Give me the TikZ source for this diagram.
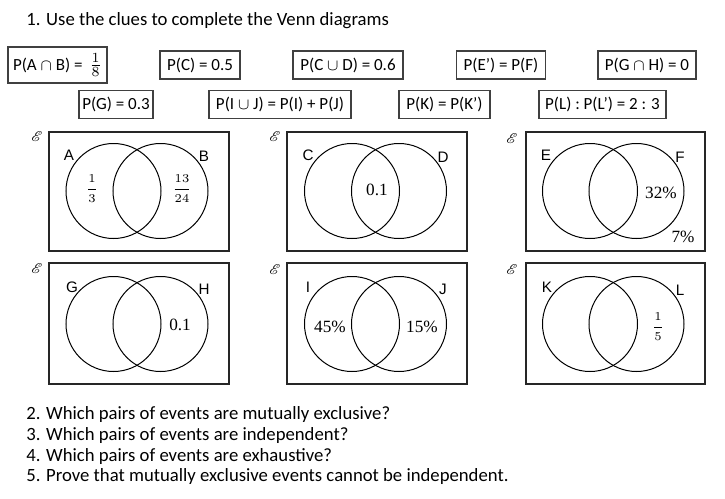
\documentclass[tikz,border=0pt]{standalone}
\usepackage[no-math]{fontspec}
\usepackage{mathrsfs}
\setmainfont{Carlito}
\newfontfamily\labfont{Liberation Sans}
\newfontfamily\numfont{Liberation Serif}

\begin{document}
\begin{tikzpicture}[x=0.5pt,y=-0.5pt]
    \tikzstyle{clue}=[draw=black!75,line width=0.6pt,inner sep=0pt,
        minimum height=14pt,font=\fontsize{8.5}{10}\selectfont]
    \tikzstyle{line}=[anchor=base west,inner sep=0pt,font=\fontsize{9.35}{11}\selectfont]
    \tikzstyle{frame}=[draw=black!85,line width=0.7pt]
    \tikzstyle{set}=[line width=0.5pt]
    \tikzstyle{lab}=[inner sep=0pt,font=\labfont\fontsize{7.6}{9}\selectfont]
    \tikzstyle{num}=[inner sep=0pt,font=\numfont\fontsize{8.6}{10}\selectfont]
    \tikzstyle{frac}=[inner sep=0pt,font=\fontsize{5.6}{7}\selectfont]
    \tikzstyle{univ}=[inner sep=0pt,font=\fontsize{7}{8}\selectfont]
    \useasboundingbox (0,0) rectangle (725,499);
    % Title
    \node[line] (title) at (26,25) {1. Use the clues to complete the Venn diagrams};
    % Clues
    \node[clue,minimum width=49.5pt,minimum height=18pt] (cAB) at (57.5,65)
        {P(A $\cap$ B) = \,{\fontsize{10}{12}\selectfont$\frac{1}{8}$}};
    \node[clue,minimum width=40pt] (cC) at (200,65) {P(C) = 0.5};
    \node[clue,minimum width=55pt] (cCD) at (348,65) {P(C $\cup$ D) = 0.6};
    \node[clue,minimum width=44.5pt] (cEF) at (501,65) {P(E’) = P(F)};
    \node[clue,minimum width=49pt] (cGH) at (647,65) {P(G $\cap$ H) = 0};
    \node[clue,minimum width=37pt] (cG) at (116,104.5) {P(G) = 0.3};
    \node[clue,minimum width=71pt] (cIJ) at (280,104.5) {P(I $\cup$ J) = P(I) + P(J)};
    \node[clue,minimum width=45.5pt] (cK) at (444.5,104.5) {P(K) = P(K’)};
    \node[clue,minimum width=63.5pt] (cL) at (602.5,104.5) {P(L) : P(L’) = 2 : 3};
    % Frames
    \draw[frame] (49,132) rectangle (229,251);
    \draw[frame] (287,132) rectangle (467,251);
    \draw[frame] (526,132) rectangle (705,251);
    \draw[frame] (49,263) rectangle (229,384);
    \draw[frame] (287,263) rectangle (467,384);
    \draw[frame] (526,263) rectangle (705,384);
    \node[univ] (u1) at (37,137) {$\mathscr{E}$};
    \node[univ] (u2) at (275,137) {$\mathscr{E}$};
    \node[univ] (u3) at (512,139) {$\mathscr{E}$};
    \node[univ] (u4) at (37,269) {$\mathscr{E}$};
    \node[univ] (u5) at (275,270) {$\mathscr{E}$};
    \node[univ] (u6) at (512,270) {$\mathscr{E}$};
    % Circles
    \draw[set] (113.5,191) circle (23.75pt);
    \draw[set] (160.5,191) circle (23.75pt);
    \draw[set] (352,191) circle (23.75pt);
    \draw[set] (399,191) circle (23.75pt);
    \draw[set] (590,191) circle (23.75pt);
    \draw[set] (636.5,191) circle (23.75pt);
    \draw[set] (113.5,324) circle (23.75pt);
    \draw[set] (160.5,324) circle (23.75pt);
    \draw[set] (352,324) circle (23.75pt);
    \draw[set] (399,324) circle (23.75pt);
    \draw[set] (590,324) circle (23.75pt);
    \draw[set] (636.5,324) circle (23.75pt);
    % Set names
    \node[lab] (A) at (69,155) {A};
    \node[lab] (B) at (204,156) {B};
    \node[lab] (C) at (308,155) {C};
    \node[lab] (D) at (443,157) {D};
    \node[lab] (E) at (546,155) {E};
    \node[lab] (F) at (680,157) {F};
    \node[lab] (G) at (72,287) {G};
    \node[lab] (H) at (204,289) {H};
    \node[lab] (I) at (308,287) {I};
    \node[lab] (J) at (443,289) {J};
    \node[lab] (K) at (547,287) {K};
    \node[lab] (L) at (680,290) {L};
    % Given values
    \node[frac] (vA) at (92,189) {$\displaystyle\frac{1}{3}$};
    \node[frac] (vB) at (182,189) {$\displaystyle\frac{13}{24}$};
    \node[num] (vCD) at (377,190) {0.1};
    \node[num] (vF) at (661,193) {32\%};
    \node[num] (vEF) at (683,237) {7\%};
    \node[num] (vH) at (180,325) {0.1};
    \node[num] (vI) at (330,327) {45\%};
    \node[num] (vJ) at (422,327) {15\%};
    \node[frac] (vL) at (658,327) {$\displaystyle\frac{1}{5}$};
    % Questions
    \node[line] (q2) at (26,419) {2. Which pairs of events are mutually exclusive?};
    \node[line] (q3) at (26,440) {3. Which pairs of events are independent?};
    \node[line] (q4) at (26,461) {4. Which pairs of events are exhaustive?};
    \node[line] (q5) at (26,481) {5. Prove that mutually exclusive events cannot be independent.};
\end{tikzpicture}
\end{document}
